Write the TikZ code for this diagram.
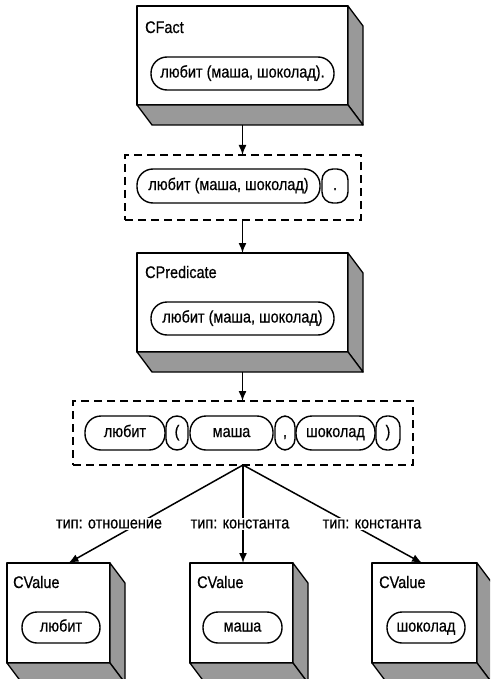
\documentclass[tikz,border=0pt]{standalone}
\usepackage{fontspec}
\setmainfont{Liberation Sans}[FakeStretch=0.86,FakeBold=0.6]
\usetikzlibrary{arrows.meta,calc}
\newcommand\mkshadow[1]{%
  \draw[side] (#1.north east) -- ($(#1.north east)+(15,20)$) -- ($(#1.south east)+(15,20)$) -- (#1.south east) -- cycle;
  \draw[side] (#1.south west) -- (#1.south east) -- ($(#1.south east)+(15,20)$) -- ($(#1.south west)+(15,20)$) -- cycle;}
\begin{document}
\begin{tikzpicture}[x=1pt,y=-1pt,
  txt/.style={font=\fontsize{16.8}{19}\selectfont},
  front/.style={draw, line width=1.6pt, fill=white, inner sep=0pt, outer sep=0pt, line join=round},
  side/.style={draw, line width=1.3pt, fill=black!40, line join=round},
  pill/.style={draw, line width=1.4pt, rounded corners=16pt, inner sep=0pt, text height=11pt, text depth=3pt, txt},
  dot/.style={draw, line width=1.4pt, rounded corners=11pt, inner sep=0pt, text height=11pt, text depth=3pt, txt},
  dbox/.style={draw, dash pattern=on 8pt off 5pt, line width=1.6pt, inner sep=0pt, outer sep=0pt},
  conn/.style={line width=1.5pt, -{Latex[length=10pt,width=8pt]}},
  lbl/.style={txt, fill=white, inner sep=1pt},
  title/.style={txt, anchor=base west, inner sep=0pt}]
\clip (0,0) rectangle (490,679);
\fill[white] (0,0) rectangle (490,679);

% CFact
\node[front, minimum width=211pt, minimum height=99pt] (fact) at (242.5,55.5) {};
\mkshadow{fact}
\node[title] (fact-t) at (145,33) {CFact};
\node[pill, minimum width=183pt, minimum height=33pt] (fact-p) at (242.5,73.5) {любит (маша, шоколад).};

% dashed 1
\node[dbox, minimum width=236pt, minimum height=65pt] (d1) at (243,187.5) {};
\node[pill, minimum width=183pt, minimum height=34pt] (d1-a) at (228.5,186) {любит (маша, шоколад)};
\node[dot, minimum width=26pt, minimum height=34pt] (d1-b) at (335,186) {.};

% CPredicate
\node[front, minimum width=211pt, minimum height=99pt] (pred) at (242.5,302.5) {};
\mkshadow{pred}
\node[title] (pred-t) at (145,278) {CPredicate};
\node[pill, minimum width=183pt, minimum height=33pt] (pred-p) at (242.5,318.5) {любит (маша, шоколад)};

% dashed 2
\node[dbox, minimum width=340pt, minimum height=64pt] (d2) at (243,433) {};
\node[pill, minimum width=80pt, minimum height=34pt] (t1) at (125,433) {любит};
\node[dot, minimum width=22pt, minimum height=34pt] (t2) at (177,433) {(};
\node[pill, minimum width=83pt, minimum height=34pt] (t3) at (231.5,433) {маша};
\node[dot, minimum width=20pt, minimum height=34pt] (t4) at (285,433) {,};
\node[pill, minimum width=79pt, minimum height=34pt] (t5) at (335.5,433) {шоколад};
\node[dot, minimum width=24pt, minimum height=34pt] (t6) at (388,433) {)};

% CValue boxes
\node[front, minimum width=103pt, minimum height=100pt] (v1) at (58.5,613) {};
\mkshadow{v1}
\node[title] (v1-t) at (13,588) {CValue};
\node[pill, minimum width=78pt, minimum height=31pt, rounded corners=15pt] (v1-p) at (61,627.5) {любит};

\node[front, minimum width=103pt, minimum height=100pt] (v2) at (241.5,613) {};
\mkshadow{v2}
\node[title] (v2-t) at (197,588) {CValue};
\node[pill, minimum width=79pt, minimum height=31pt, rounded corners=15pt] (v2-p) at (242.5,627.5) {маша};

\node[front, minimum width=105pt, minimum height=100pt] (v3) at (424.5,613) {};
\mkshadow{v3}
\node[title] (v3-t) at (379,588) {CValue};
\node[pill, minimum width=78pt, minimum height=31pt, rounded corners=15pt] (v3-p) at (426,627.5) {шоколад};

% connectors
\coordinate (fact-b) at ($(fact.south)+(0,20)$);
\draw[conn] (fact-b) -- (fact-b |- d1.north);
\draw[conn] (pred.north |- d1.south) -- (pred.north);
\coordinate (pred-b) at ($(pred.south)+(0,20)$);
\draw[conn] (pred-b) -- (pred-b |- d2.north);
\coordinate (hub) at (d2.south);
\draw[conn] (hub) -- ([xshift=10pt]v1.north);
\draw[conn] (hub) -- (hub |- v2.north);
\draw[conn] (hub) -- ([xshift=-2.5pt]v3.north);

\node[lbl] (l1) at (109,524) {тип: отношение};
\node[lbl] (l2) at (240,524) {тип: константа};
\node[lbl] (l3) at (372,524) {тип: константа};
\end{tikzpicture}
\end{document}
